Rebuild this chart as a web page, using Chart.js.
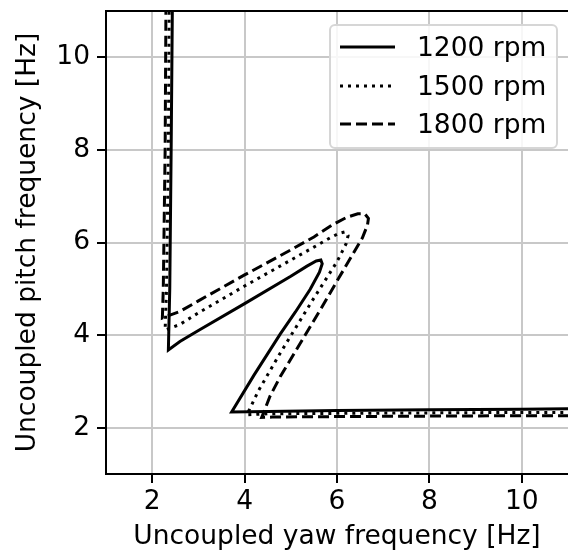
<!DOCTYPE html>
<html>
<head>
<meta charset="utf-8">
<script src="https://cdn.jsdelivr.net/npm/chart.js@4"></script>
<style>
  html, body { margin: 0; padding: 0; background: #fff; overflow: hidden; }
  #wrap { width: 568px; height: 555px; }
</style>
</head>
<body>
<div id="wrap"><canvas id="freqChart"></canvas></div>
<script>
// axis ticks
const xTicks = [2, 4, 6, 8, 10];
const yTicks = [2, 4, 6, 8, 10];

// 1200 rpm
const yaw1200   = [2.44, 2.41, 2.38, 2.35, 2.6, 3.0, 4.0, 5.0, 5.35, 5.55, 5.65, 5.68, 5.62, 5.42, 5.1, 4.77, 4.2, 3.72, 4.5, 6.0, 8.0, 10.0, 11.5];
const pitch1200 = [11.5, 8.0, 5.0, 3.68, 3.86, 4.10, 4.68, 5.27, 5.49, 5.60, 5.62, 5.54, 5.36, 4.99, 4.50, 4.02, 3.13, 2.34, 2.35, 2.37, 2.39, 2.40, 2.41];

// 1500 rpm
const yaw1500   = [2.37, 2.35, 2.31, 2.28, 2.6, 3.0, 4.0, 5.0, 5.5, 5.85, 6.05, 6.17, 6.24, 6.2, 6.06, 5.99, 5.45, 4.77, 4.3, 4.05, 4.5, 6.0, 8.0, 10.0, 11.5];
const pitch1500 = [11.5, 8.0, 5.0, 4.11, 4.23, 4.48, 5.06, 5.62, 5.90, 6.10, 6.20, 6.23, 6.15, 5.98, 5.70, 5.57, 4.72, 3.61, 2.80, 2.28, 2.30, 2.31, 2.32, 2.33, 2.33];

// 1800 rpm
const yaw1800   = [2.30, 2.28, 2.24, 2.22, 2.6, 3.0, 4.0, 5.0, 5.5, 5.9, 6.2, 6.45, 6.6, 6.68, 6.66, 6.55, 5.99, 5.63, 4.77, 4.55, 4.37, 4.6, 6.0, 8.0, 10.0, 11.5];
const pitch1800 = [11.5, 8.0, 5.0, 4.37, 4.51, 4.74, 5.30, 5.84, 6.12, 6.38, 6.54, 6.62, 6.62, 6.52, 6.38, 6.10, 5.15, 4.53, 3.10, 2.68, 2.22, 2.23, 2.24, 2.25, 2.26, 2.26];

const seriesLabels = ['1200 rpm', '1500 rpm', '1800 rpm'];

function toPoints(xs, ys) {
    return xs.map((x, i) => ({ x: x, y: ys[i] }));
}

const FONT = 'DejaVu Sans';
const FSIZE = 26.5;

// top spine + matplotlib-like legend box
const framePlugin = {
    id: 'frame',
    afterDraw(chart) {
        const ctx = chart.ctx;
        const a = chart.chartArea;
        ctx.save();
        ctx.strokeStyle = '#000';
        ctx.lineWidth = 2;
        ctx.beginPath();
        ctx.moveTo(a.left - 1, a.top);
        ctx.lineTo(a.right + 2, a.top);
        ctx.stroke();

        // legend
        const bx = 330, by = 25, bw = 227, bh = 123, r = 5;
        ctx.fillStyle = 'rgba(255,255,255,0.85)';
        ctx.strokeStyle = '#d6d6d6';
        ctx.lineWidth = 2;
        ctx.beginPath();
        ctx.roundRect(bx, by, bw, bh, r);
        ctx.fill();
        ctx.stroke();

        const rows = [56, 95, 133];
        chart.data.datasets.forEach((ds, i) => {
            const cy = rows[i] - 9;
            ctx.strokeStyle = '#000';
            ctx.lineWidth = ds.borderWidth;
            ctx.setLineDash(ds.borderDash || []);
            ctx.beginPath();
            ctx.moveTo(340, cy);
            ctx.lineTo(395, cy);
            ctx.stroke();
            ctx.setLineDash([]);
            ctx.fillStyle = '#000';
            ctx.font = FSIZE + 'px "' + FONT + '"';
            ctx.textBaseline = 'alphabetic';
            ctx.textAlign = 'left';
            ctx.fillText(ds.label, 417, rows[i]);
        });
        ctx.restore();
    }
};

const ctx = document.getElementById('freqChart').getContext('2d');
new Chart(ctx, {
    type: 'scatter',
    data: {
        datasets: [{
            label: seriesLabels[0],
            data: toPoints(yaw1200, pitch1200),
            showLine: true,
            borderColor: '#000',
            borderWidth: 3,
            borderDash: [],
            pointRadius: 0,
            tension: 0
        }, {
            label: seriesLabels[1],
            data: toPoints(yaw1500, pitch1500),
            showLine: true,
            borderColor: '#000',
            borderWidth: 3,
            borderDash: [3, 5],
            pointRadius: 0,
            tension: 0
        }, {
            label: seriesLabels[2],
            data: toPoints(yaw1800, pitch1800),
            showLine: true,
            borderColor: '#000',
            borderWidth: 3,
            borderDash: [11, 5],
            pointRadius: 0,
            tension: 0
        }]
    },
    options: {
        responsive: true,
        maintainAspectRatio: false,
        animation: false,
        devicePixelRatio: 1,
        layout: { padding: { top: 11, left: 0, right: 0, bottom: 0 } },
        scales: {
            x: {
                type: 'linear',
                min: 1,
                max: 11,
                afterBuildTicks: scale => { scale.ticks = xTicks.map(v => ({ value: v })); },
                afterFit: scale => {
                    scale.height = 81;
                    scale.paddingLeft = 0;
                    scale.paddingRight = 0;
                },
                grid: { color: '#c8c8c8', lineWidth: 2, tickLength: 9, tickColor: '#000', tickWidth: 2 },
                border: { color: '#000', width: 2 },
                ticks: { color: '#000', padding: 3, font: { family: FONT, size: FSIZE } },
                title: {
                    display: true,
                    text: 'Uncoupled yaw frequency [Hz]',
                    color: '#000',
                    font: { family: FONT, size: FSIZE },
                    padding: { top: 0, bottom: 2 }
                }
            },
            y: {
                type: 'linear',
                min: 1,
                max: 11,
                afterBuildTicks: scale => { scale.ticks = yTicks.map(v => ({ value: v })); },
                afterFit: scale => {
                    scale.width = 106;
                    scale.paddingTop = 0;
                    scale.paddingBottom = 0;
                },
                grid: { color: '#c8c8c8', lineWidth: 2, tickLength: 9, tickColor: '#000', tickWidth: 2 },
                border: { color: '#000', width: 2 },
                ticks: { color: '#000', padding: 7, font: { family: FONT, size: FSIZE } },
                title: {
                    display: true,
                    text: 'Uncoupled pitch frequency [Hz]',
                    color: '#000',
                    font: { family: FONT, size: FSIZE },
                    padding: { top: 12, bottom: 0 }
                }
            }
        },
        plugins: {
            legend: { display: false },
            tooltip: { enabled: false }
        }
    },
    plugins: [framePlugin]
});
</script>
</body>
</html>
